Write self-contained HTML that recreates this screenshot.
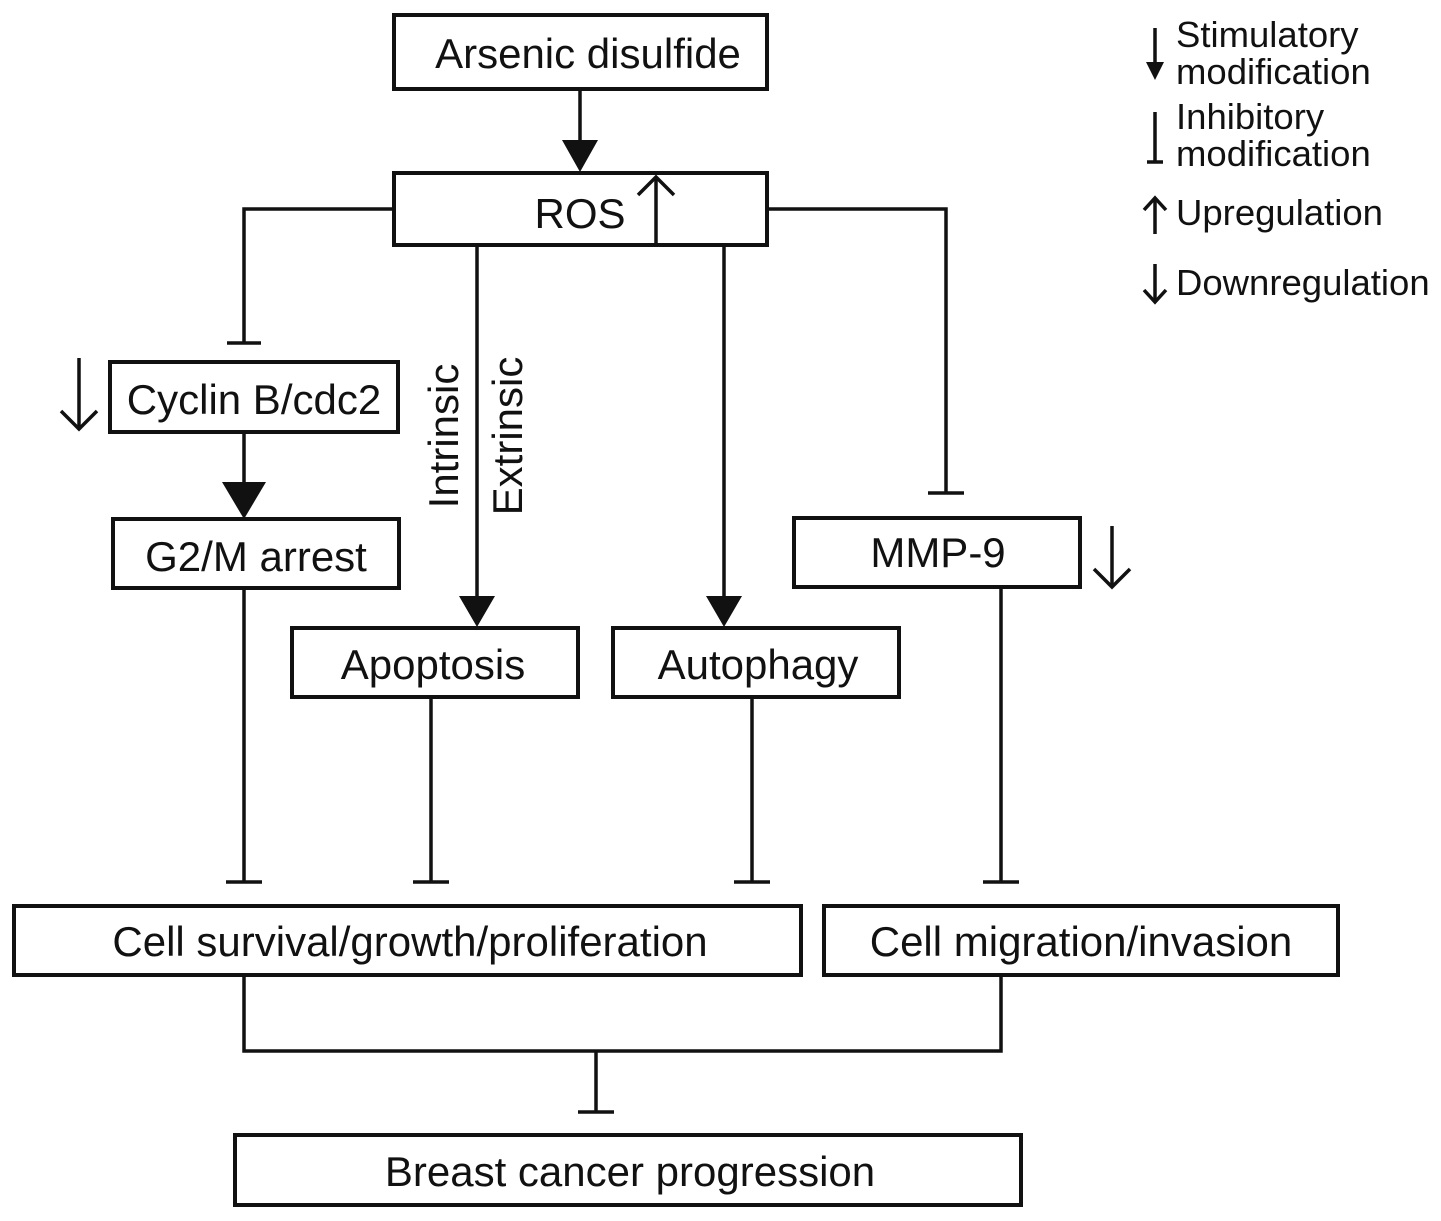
<!DOCTYPE html>
<html><head><meta charset="utf-8"><style>
html,body{margin:0;padding:0;background:#fff;}
svg{display:block;}
text{font-family:"Liberation Sans",Arial,sans-serif;fill:#111;}
</style></head><body>
<svg width="1441" height="1221" viewBox="0 0 1441 1221" xmlns="http://www.w3.org/2000/svg">
<g fill="none" stroke="#111" stroke-width="4">
<rect x="394" y="15" width="373" height="74"/>
<rect x="394" y="173" width="373" height="72"/>
<rect x="110" y="362" width="288" height="70"/>
<rect x="113" y="519" width="286" height="69"/>
<rect x="292" y="628" width="286" height="69"/>
<rect x="613" y="628" width="286" height="69"/>
<rect x="794" y="518" width="286" height="69"/>
<rect x="14" y="906" width="787" height="69"/>
<rect x="824" y="906" width="514" height="69"/>
<rect x="235" y="1135" width="786" height="70"/>
</g>
<g fill="none" stroke="#111" stroke-width="3.5">
<line x1="580" y1="89" x2="580" y2="145"/>
<line x1="656" y1="245" x2="656" y2="177"/>
<polyline points="638,195 656,177 674,195"/>
<polyline points="394,209 244,209 244,343"/>
<line x1="227" y1="343" x2="261" y2="343"/>
<line x1="79" y1="358" x2="79" y2="429"/>
<polyline points="61,411 79,429 97,411"/>
<line x1="244" y1="432" x2="244" y2="485"/>
<line x1="244" y1="588" x2="244" y2="882"/>
<line x1="226" y1="882" x2="262" y2="882"/>
<line x1="477" y1="245" x2="477" y2="598"/>
<line x1="431" y1="697" x2="431" y2="882"/>
<line x1="413" y1="882" x2="449" y2="882"/>
<line x1="724" y1="245" x2="724" y2="598"/>
<line x1="752" y1="697" x2="752" y2="882"/>
<line x1="734" y1="882" x2="770" y2="882"/>
<polyline points="767,209 946,209 946,493"/>
<line x1="928" y1="493" x2="964" y2="493"/>
<line x1="1112" y1="526" x2="1112" y2="587"/>
<polyline points="1094,569 1112,587 1130,569"/>
<line x1="1001" y1="587" x2="1001" y2="882"/>
<line x1="983" y1="882" x2="1019" y2="882"/>
<polyline points="244,975 244,1051 1001,1051 1001,975"/>
<line x1="596" y1="1051" x2="596" y2="1112"/>
<line x1="578" y1="1112" x2="614" y2="1112"/>
<line x1="1155" y1="28" x2="1155" y2="66"/>
<line x1="1155" y1="112" x2="1155" y2="162"/>
<line x1="1147" y1="162" x2="1163" y2="162"/>
<line x1="1155" y1="234" x2="1155" y2="198"/>
<polyline points="1144,210 1155,198 1166,210"/>
<line x1="1155" y1="264" x2="1155" y2="302"/>
<polyline points="1144,290 1155,302 1166,290"/>
</g>
<g fill="#111">
<polygon points="562,140 598,140 580,172"/>
<polygon points="222,482 266,482 244,519"/>
<polygon points="459,596 495,596 477,627"/>
<polygon points="706,596 742,596 724,627"/>
<polygon points="1146,62 1164,62 1155,80"/>
</g>
<g font-size="42" text-anchor="middle">
<text x="588" y="68">Arsenic disulfide</text>
<text x="580" y="228">ROS</text>
<text x="254" y="414">Cyclin B/cdc2</text>
<text x="256" y="571">G2/M arrest</text>
<text x="433" y="679">Apoptosis</text>
<text x="758" y="679">Autophagy</text>
<text x="938" y="567">MMP-9</text>
<text x="410" y="956">Cell survival/growth/proliferation</text>
<text x="1081" y="956">Cell migration/invasion</text>
<text x="630" y="1186">Breast cancer progression</text>
<text transform="translate(458,436) rotate(-90)">Intrinsic</text>
<text transform="translate(522,436) rotate(-90)">Extrinsic</text>
</g>
<g font-size="36.5">
<text x="1176" y="47">Stimulatory</text>
<text x="1176" y="84">modification</text>
<text x="1176" y="129">Inhibitory</text>
<text x="1176" y="166">modification</text>
<text x="1176" y="225">Upregulation</text>
<text x="1176" y="295">Downregulation</text>
</g>
</svg>
</body></html>
